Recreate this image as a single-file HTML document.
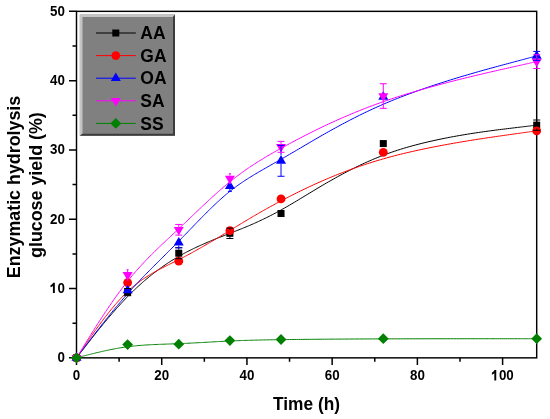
<!DOCTYPE html><html><head><meta charset="utf-8"><style>html,body{margin:0;padding:0;background:#fff;width:550px;height:419px;overflow:hidden}svg{display:block;will-change:transform;filter:blur(0.35px)}text{font-family:"Liberation Sans",sans-serif;font-weight:bold}</style></head><body>
<svg width="550" height="419" viewBox="0 0 550 419">
<rect x="76.5" y="11.35" width="460.19" height="346.50" fill="none" stroke="#000" stroke-width="1.45"/>
<path d="M69.0 357.85H76.5 M72.5 323.20H76.5 M69.0 288.55H76.5 M72.5 253.90H76.5 M69.0 219.25H76.5 M72.5 184.60H76.5 M69.0 149.95H76.5 M72.5 115.30H76.5 M69.0 80.65H76.5 M72.5 46.00H76.5 M69.0 11.35H76.5 M76.50 357.85V365.05 M119.11 357.85V361.85 M161.72 357.85V365.05 M204.33 357.85V361.85 M246.94 357.85V365.05 M289.55 357.85V361.85 M332.16 357.85V365.05 M374.77 357.85V361.85 M417.38 357.85V365.05 M459.99 357.85V361.85 M502.60 357.85V365.05" stroke="#000" stroke-width="1.5" fill="none"/>
<path d="M76.50 357.85 L76.50 357.85 L76.50 357.85 L76.50 357.85 L76.51 357.84 L76.51 357.83 L76.52 357.82 L76.53 357.81 L76.55 357.79 L76.57 357.76 L76.59 357.73 L76.62 357.69 L76.66 357.64 L76.71 357.59 L76.76 357.52 L76.82 357.44 L76.88 357.36 L76.96 357.26 L77.05 357.15 L77.14 357.02 L77.25 356.89 L77.37 356.74 L77.50 356.57 L77.64 356.39 L77.79 356.19 L77.96 355.97 L78.14 355.74 L78.34 355.48 L78.55 355.21 L78.78 354.92 L79.03 354.60 L79.29 354.27 L79.56 353.91 L79.86 353.53 L80.18 353.12 L80.51 352.69 L80.86 352.24 L81.24 351.76 L81.63 351.25 L82.05 350.71 L82.49 350.15 L82.95 349.56 L83.43 348.94 L83.94 348.29 L84.47 347.60 L85.02 346.89 L85.60 346.14 L86.21 345.36 L86.84 344.56 L87.49 343.72 L88.17 342.85 L88.87 341.96 L89.59 341.04 L90.33 340.09 L91.09 339.12 L91.87 338.13 L92.67 337.11 L93.50 336.07 L94.34 335.02 L95.19 333.94 L96.07 332.85 L96.96 331.73 L97.87 330.61 L98.79 329.46 L99.73 328.31 L100.69 327.13 L101.65 325.95 L102.64 324.76 L103.63 323.55 L104.64 322.34 L105.65 321.12 L106.68 319.89 L107.72 318.66 L108.77 317.42 L109.83 316.17 L110.90 314.93 L111.98 313.68 L113.07 312.43 L114.16 311.18 L115.26 309.93 L116.36 308.69 L117.47 307.44 L118.59 306.21 L119.71 304.97 L120.83 303.74 L121.96 302.52 L123.09 301.31 L124.23 300.11 L125.36 298.92 L126.50 297.73 L127.63 296.57 L128.77 295.41 L129.90 294.27 L131.04 293.14 L132.18 292.02 L133.31 290.92 L134.45 289.83 L135.59 288.75 L136.72 287.68 L137.86 286.63 L138.99 285.59 L140.13 284.56 L141.27 283.54 L142.40 282.54 L143.54 281.55 L144.68 280.57 L145.81 279.60 L146.95 278.65 L148.08 277.70 L149.22 276.77 L150.36 275.85 L151.49 274.94 L152.63 274.05 L153.77 273.16 L154.90 272.29 L156.04 271.42 L157.17 270.57 L158.31 269.73 L159.45 268.90 L160.58 268.08 L161.72 267.27 L162.86 266.47 L163.99 265.68 L165.13 264.91 L166.27 264.14 L167.40 263.38 L168.54 262.64 L169.67 261.90 L170.81 261.18 L171.95 260.46 L173.08 259.76 L174.22 259.06 L175.36 258.37 L176.49 257.70 L177.63 257.03 L178.76 256.37 L179.90 255.72 L181.04 255.08 L182.17 254.45 L183.31 253.83 L184.45 253.22 L185.58 252.62 L186.72 252.02 L187.85 251.43 L188.99 250.85 L190.13 250.28 L191.26 249.71 L192.40 249.15 L193.54 248.60 L194.67 248.05 L195.81 247.52 L196.94 246.98 L198.08 246.46 L199.22 245.94 L200.35 245.42 L201.49 244.91 L202.63 244.41 L203.76 243.91 L204.90 243.41 L206.03 242.92 L207.17 242.44 L208.31 241.96 L209.44 241.48 L210.58 241.00 L211.72 240.53 L212.85 240.07 L213.99 239.60 L215.12 239.14 L216.26 238.69 L217.40 238.23 L218.53 237.78 L219.67 237.33 L220.81 236.88 L221.94 236.43 L223.08 235.98 L224.21 235.54 L225.35 235.10 L226.49 234.65 L227.62 234.21 L228.76 233.77 L229.90 233.33 L231.03 232.89 L232.17 232.45 L233.31 232.00 L234.45 231.56 L235.59 231.11 L236.73 230.66 L237.88 230.21 L239.03 229.75 L240.19 229.29 L241.35 228.83 L242.52 228.36 L243.69 227.88 L244.87 227.40 L246.06 226.90 L247.26 226.41 L248.46 225.90 L249.67 225.38 L250.89 224.86 L252.13 224.32 L253.37 223.78 L254.62 223.22 L255.89 222.65 L257.17 222.07 L258.46 221.48 L259.76 220.88 L261.08 220.26 L262.42 219.62 L263.76 218.97 L265.13 218.31 L266.51 217.63 L267.91 216.93 L269.32 216.22 L270.75 215.49 L272.20 214.74 L273.67 213.97 L275.16 213.19 L276.67 212.38 L278.21 211.55 L279.76 210.70 L281.33 209.84 L282.93 208.94 L284.55 208.03 L286.19 207.09 L287.86 206.13 L289.55 205.15 L291.27 204.14 L293.01 203.11 L294.78 202.05 L296.57 200.97 L298.39 199.88 L300.23 198.76 L302.10 197.62 L303.99 196.47 L305.91 195.31 L307.86 194.12 L309.83 192.93 L311.82 191.72 L313.84 190.50 L315.89 189.27 L317.96 188.03 L320.05 186.79 L322.17 185.53 L324.32 184.27 L326.49 183.01 L328.69 181.74 L330.91 180.47 L333.16 179.20 L335.43 177.93 L337.73 176.66 L340.05 175.39 L342.40 174.12 L344.77 172.86 L347.17 171.61 L349.60 170.36 L352.04 169.12 L354.52 167.88 L357.02 166.66 L359.54 165.45 L362.09 164.25 L364.67 163.06 L367.27 161.89 L369.90 160.73 L372.55 159.59 L375.22 158.46 L377.93 157.36 L380.65 156.27 L383.41 155.21 L386.18 154.17 L388.99 153.15 L391.81 152.16 L394.67 151.19 L397.54 150.24 L400.44 149.32 L403.35 148.43 L406.29 147.56 L409.23 146.71 L412.19 145.89 L415.16 145.08 L418.13 144.31 L421.11 143.55 L424.09 142.81 L427.07 142.10 L430.05 141.41 L433.03 140.74 L436.00 140.09 L438.96 139.46 L441.92 138.84 L444.85 138.25 L447.78 137.68 L450.68 137.12 L453.57 136.59 L456.44 136.07 L459.28 135.57 L462.09 135.08 L464.88 134.61 L467.63 134.16 L470.35 133.73 L473.04 133.31 L475.69 132.90 L478.30 132.51 L480.86 132.14 L483.39 131.78 L485.86 131.43 L488.29 131.10 L490.66 130.78 L492.99 130.47 L495.25 130.17 L497.46 129.89 L499.61 129.62 L501.70 129.36 L503.72 129.11 L505.68 128.87 L507.56 128.64 L509.38 128.42 L511.12 128.21 L512.83 128.01 L514.45 127.81 L516.00 127.63 L517.48 127.45 L518.88 127.28 L520.22 127.12 L521.49 126.97 L522.69 126.82 L523.82 126.69 L524.89 126.56 L525.90 126.44 L526.85 126.32 L527.75 126.22 L528.58 126.11 L529.37 126.02 L530.10 125.93 L530.78 125.85 L531.41 125.77 L532.00 125.70 L532.54 125.64 L533.04 125.58 L533.49 125.52 L533.91 125.47 L534.29 125.43 L534.63 125.39 L534.94 125.35 L535.21 125.32 L535.46 125.29 L535.68 125.26 L535.86 125.24 L536.03 125.22 L536.17 125.20 L536.29 125.19 L536.39 125.18 L536.47 125.17 L536.53 125.16 L536.59 125.15 L536.62 125.15 L536.65 125.15 L536.67 125.14 L536.68 125.14 L536.69 125.14 L536.69 125.14 L536.69 125.14" fill="none" stroke="#000000" stroke-width="1.0"/>
<path d="M76.50 357.85 L76.50 357.85 L76.50 357.85 L76.50 357.85 L76.51 357.84 L76.51 357.83 L76.52 357.82 L76.53 357.80 L76.55 357.78 L76.57 357.75 L76.59 357.71 L76.62 357.67 L76.66 357.61 L76.71 357.55 L76.76 357.47 L76.82 357.39 L76.88 357.29 L76.96 357.17 L77.05 357.05 L77.14 356.91 L77.25 356.75 L77.37 356.58 L77.50 356.38 L77.64 356.18 L77.79 355.95 L77.96 355.70 L78.14 355.43 L78.34 355.14 L78.55 354.83 L78.78 354.49 L79.03 354.13 L79.29 353.75 L79.56 353.34 L79.86 352.90 L80.18 352.44 L80.51 351.95 L80.86 351.43 L81.24 350.88 L81.63 350.30 L82.05 349.68 L82.49 349.04 L82.95 348.36 L83.43 347.65 L83.94 346.91 L84.47 346.12 L85.02 345.31 L85.60 344.45 L86.21 343.56 L86.84 342.64 L87.49 341.68 L88.17 340.69 L88.87 339.67 L89.59 338.62 L90.33 337.55 L91.09 336.45 L91.87 335.32 L92.67 334.17 L93.50 333.00 L94.34 331.81 L95.19 330.61 L96.07 329.38 L96.96 328.14 L97.87 326.88 L98.79 325.61 L99.73 324.33 L100.69 323.04 L101.65 321.74 L102.64 320.43 L103.63 319.12 L104.64 317.80 L105.65 316.48 L106.68 315.15 L107.72 313.83 L108.77 312.51 L109.83 311.19 L110.90 309.87 L111.98 308.56 L113.07 307.26 L114.16 305.96 L115.26 304.67 L116.36 303.40 L117.47 302.14 L118.59 300.89 L119.71 299.65 L120.83 298.44 L121.96 297.24 L123.09 296.06 L124.23 294.90 L125.36 293.76 L126.50 292.65 L127.63 291.56 L128.77 290.50 L129.90 289.47 L131.04 288.46 L132.18 287.47 L133.31 286.51 L134.45 285.57 L135.59 284.66 L136.72 283.76 L137.86 282.89 L138.99 282.04 L140.13 281.20 L141.27 280.39 L142.40 279.59 L143.54 278.82 L144.68 278.06 L145.81 277.31 L146.95 276.58 L148.08 275.87 L149.22 275.17 L150.36 274.48 L151.49 273.80 L152.63 273.14 L153.77 272.49 L154.90 271.85 L156.04 271.22 L157.17 270.60 L158.31 269.99 L159.45 269.39 L160.58 268.79 L161.72 268.20 L162.86 267.61 L163.99 267.03 L165.13 266.46 L166.27 265.89 L167.40 265.32 L168.54 264.76 L169.67 264.19 L170.81 263.63 L171.95 263.07 L173.08 262.51 L174.22 261.94 L175.36 261.38 L176.49 260.81 L177.63 260.24 L178.76 259.66 L179.90 259.08 L181.04 258.50 L182.17 257.91 L183.31 257.32 L184.45 256.73 L185.58 256.13 L186.72 255.52 L187.85 254.91 L188.99 254.30 L190.13 253.69 L191.26 253.07 L192.40 252.44 L193.54 251.82 L194.67 251.19 L195.81 250.56 L196.94 249.92 L198.08 249.28 L199.22 248.64 L200.35 247.99 L201.49 247.35 L202.63 246.70 L203.76 246.04 L204.90 245.39 L206.03 244.73 L207.17 244.07 L208.31 243.40 L209.44 242.74 L210.58 242.07 L211.72 241.40 L212.85 240.73 L213.99 240.06 L215.12 239.38 L216.26 238.71 L217.40 238.03 L218.53 237.35 L219.67 236.66 L220.81 235.98 L221.94 235.30 L223.08 234.61 L224.21 233.92 L225.35 233.24 L226.49 232.55 L227.62 231.86 L228.76 231.17 L229.90 230.48 L231.03 229.78 L232.17 229.09 L233.31 228.40 L234.45 227.70 L235.59 227.01 L236.73 226.31 L237.88 225.61 L239.03 224.91 L240.19 224.21 L241.35 223.51 L242.52 222.80 L243.69 222.09 L244.87 221.38 L246.06 220.67 L247.26 219.95 L248.46 219.23 L249.67 218.51 L250.89 217.78 L252.13 217.06 L253.37 216.32 L254.62 215.59 L255.89 214.85 L257.17 214.11 L258.46 213.36 L259.76 212.61 L261.08 211.85 L262.42 211.09 L263.76 210.33 L265.13 209.56 L266.51 208.78 L267.91 208.00 L269.32 207.22 L270.75 206.43 L272.20 205.63 L273.67 204.83 L275.16 204.02 L276.67 203.21 L278.21 202.39 L279.76 201.56 L281.33 200.73 L282.93 199.89 L284.55 199.04 L286.19 198.19 L287.86 197.33 L289.55 196.46 L291.27 195.59 L293.01 194.71 L294.78 193.82 L296.57 192.92 L298.39 192.02 L300.23 191.12 L302.10 190.21 L303.99 189.30 L305.91 188.38 L307.86 187.46 L309.83 186.53 L311.82 185.61 L313.84 184.68 L315.89 183.75 L317.96 182.82 L320.05 181.89 L322.17 180.95 L324.32 180.02 L326.49 179.09 L328.69 178.16 L330.91 177.23 L333.16 176.30 L335.43 175.38 L337.73 174.45 L340.05 173.54 L342.40 172.62 L344.77 171.71 L347.17 170.80 L349.60 169.90 L352.04 169.00 L354.52 168.11 L357.02 167.23 L359.54 166.35 L362.09 165.48 L364.67 164.62 L367.27 163.76 L369.90 162.91 L372.55 162.08 L375.22 161.25 L377.93 160.43 L380.65 159.62 L383.41 158.82 L386.18 158.04 L388.99 157.26 L391.81 156.50 L394.67 155.75 L397.54 155.01 L400.44 154.28 L403.35 153.57 L406.29 152.87 L409.23 152.18 L412.19 151.50 L415.16 150.84 L418.13 150.18 L421.11 149.54 L424.09 148.92 L427.07 148.30 L430.05 147.69 L433.03 147.10 L436.00 146.52 L438.96 145.95 L441.92 145.39 L444.85 144.85 L447.78 144.31 L450.68 143.79 L453.57 143.28 L456.44 142.78 L459.28 142.29 L462.09 141.82 L464.88 141.35 L467.63 140.90 L470.35 140.46 L473.04 140.03 L475.69 139.61 L478.30 139.20 L480.86 138.80 L483.39 138.42 L485.86 138.04 L488.29 137.68 L490.66 137.33 L492.99 136.99 L495.25 136.66 L497.46 136.34 L499.61 136.03 L501.70 135.73 L503.72 135.44 L505.68 135.17 L507.56 134.90 L509.38 134.65 L511.12 134.40 L512.83 134.17 L514.45 133.94 L516.00 133.72 L517.48 133.51 L518.88 133.32 L520.22 133.13 L521.49 132.95 L522.69 132.78 L523.82 132.63 L524.89 132.48 L525.90 132.33 L526.85 132.20 L527.75 132.08 L528.58 131.96 L529.37 131.85 L530.10 131.75 L530.78 131.65 L531.41 131.56 L532.00 131.48 L532.54 131.40 L533.04 131.33 L533.49 131.27 L533.91 131.21 L534.29 131.16 L534.63 131.11 L534.94 131.07 L535.21 131.03 L535.46 131.00 L535.68 130.97 L535.86 130.94 L536.03 130.92 L536.17 130.90 L536.29 130.88 L536.39 130.87 L536.47 130.85 L536.53 130.84 L536.59 130.84 L536.62 130.83 L536.65 130.83 L536.67 130.83 L536.68 130.82 L536.69 130.82 L536.69 130.82 L536.69 130.82" fill="none" stroke="#ff0000" stroke-width="1.0"/>
<path d="M76.50 357.85 L76.50 357.85 L76.50 357.85 L76.50 357.85 L76.51 357.84 L76.51 357.83 L76.52 357.82 L76.53 357.81 L76.55 357.79 L76.57 357.76 L76.59 357.73 L76.62 357.69 L76.66 357.64 L76.71 357.58 L76.76 357.51 L76.82 357.43 L76.88 357.34 L76.96 357.24 L77.05 357.13 L77.14 357.00 L77.25 356.86 L77.37 356.71 L77.50 356.54 L77.64 356.35 L77.79 356.15 L77.96 355.92 L78.14 355.68 L78.34 355.42 L78.55 355.14 L78.78 354.84 L79.03 354.52 L79.29 354.18 L79.56 353.81 L79.86 353.42 L80.18 353.00 L80.51 352.56 L80.86 352.10 L81.24 351.60 L81.63 351.08 L82.05 350.53 L82.49 349.96 L82.95 349.35 L83.43 348.71 L83.94 348.04 L84.47 347.34 L85.02 346.61 L85.60 345.85 L86.21 345.05 L86.84 344.22 L87.49 343.36 L88.17 342.47 L88.87 341.55 L89.59 340.61 L90.33 339.63 L91.09 338.64 L91.87 337.61 L92.67 336.57 L93.50 335.50 L94.34 334.41 L95.19 333.30 L96.07 332.17 L96.96 331.01 L97.87 329.85 L98.79 328.66 L99.73 327.46 L100.69 326.24 L101.65 325.01 L102.64 323.77 L103.63 322.51 L104.64 321.24 L105.65 319.97 L106.68 318.68 L107.72 317.38 L108.77 316.08 L109.83 314.77 L110.90 313.45 L111.98 312.13 L113.07 310.81 L114.16 309.48 L115.26 308.15 L116.36 306.83 L117.47 305.50 L118.59 304.17 L119.71 302.84 L120.83 301.52 L121.96 300.20 L123.09 298.89 L124.23 297.58 L125.36 296.28 L126.50 294.99 L127.63 293.70 L128.77 292.43 L129.90 291.16 L131.04 289.90 L132.18 288.66 L133.31 287.42 L134.45 286.19 L135.59 284.96 L136.72 283.75 L137.86 282.54 L138.99 281.34 L140.13 280.14 L141.27 278.95 L142.40 277.77 L143.54 276.59 L144.68 275.42 L145.81 274.26 L146.95 273.09 L148.08 271.94 L149.22 270.78 L150.36 269.63 L151.49 268.49 L152.63 267.34 L153.77 266.20 L154.90 265.07 L156.04 263.93 L157.17 262.80 L158.31 261.67 L159.45 260.53 L160.58 259.41 L161.72 258.28 L162.86 257.15 L163.99 256.02 L165.13 254.89 L166.27 253.76 L167.40 252.63 L168.54 251.50 L169.67 250.36 L170.81 249.23 L171.95 248.09 L173.08 246.95 L174.22 245.81 L175.36 244.66 L176.49 243.52 L177.63 242.36 L178.76 241.21 L179.90 240.05 L181.04 238.88 L182.17 237.71 L183.31 236.54 L184.45 235.37 L185.58 234.19 L186.72 233.01 L187.85 231.83 L188.99 230.65 L190.13 229.47 L191.26 228.29 L192.40 227.11 L193.54 225.94 L194.67 224.76 L195.81 223.58 L196.94 222.41 L198.08 221.24 L199.22 220.07 L200.35 218.91 L201.49 217.75 L202.63 216.59 L203.76 215.44 L204.90 214.29 L206.03 213.16 L207.17 212.02 L208.31 210.90 L209.44 209.78 L210.58 208.66 L211.72 207.56 L212.85 206.46 L213.99 205.38 L215.12 204.30 L216.26 203.23 L217.40 202.17 L218.53 201.13 L219.67 200.09 L220.81 199.06 L221.94 198.05 L223.08 197.05 L224.21 196.06 L225.35 195.09 L226.49 194.13 L227.62 193.18 L228.76 192.25 L229.90 191.33 L231.03 190.43 L232.17 189.54 L233.31 188.67 L234.45 187.81 L235.59 186.96 L236.73 186.13 L237.88 185.30 L239.03 184.49 L240.19 183.68 L241.35 182.88 L242.52 182.09 L243.69 181.31 L244.87 180.53 L246.06 179.76 L247.26 179.00 L248.46 178.23 L249.67 177.48 L250.89 176.72 L252.13 175.96 L253.37 175.21 L254.62 174.45 L255.89 173.70 L257.17 172.94 L258.46 172.18 L259.76 171.42 L261.08 170.66 L262.42 169.89 L263.76 169.11 L265.13 168.33 L266.51 167.54 L267.91 166.75 L269.32 165.94 L270.75 165.13 L272.20 164.30 L273.67 163.47 L275.16 162.62 L276.67 161.77 L278.21 160.90 L279.76 160.01 L281.33 159.11 L282.93 158.20 L284.55 157.27 L286.19 156.32 L287.86 155.36 L289.55 154.37 L291.27 153.37 L293.01 152.35 L294.78 151.31 L296.57 150.26 L298.39 149.19 L300.23 148.10 L302.10 147.00 L303.99 145.88 L305.91 144.75 L307.86 143.61 L309.83 142.45 L311.82 141.28 L313.84 140.10 L315.89 138.91 L317.96 137.72 L320.05 136.51 L322.17 135.29 L324.32 134.07 L326.49 132.84 L328.69 131.60 L330.91 130.36 L333.16 129.11 L335.43 127.86 L337.73 126.61 L340.05 125.35 L342.40 124.09 L344.77 122.83 L347.17 121.57 L349.60 120.31 L352.04 119.05 L354.52 117.79 L357.02 116.53 L359.54 115.27 L362.09 114.02 L364.67 112.77 L367.27 111.53 L369.90 110.29 L372.55 109.06 L375.22 107.83 L377.93 106.61 L380.65 105.40 L383.41 104.20 L386.18 103.01 L388.99 101.83 L391.81 100.65 L394.67 99.49 L397.54 98.35 L400.44 97.21 L403.35 96.08 L406.29 94.97 L409.23 93.87 L412.19 92.79 L415.16 91.71 L418.13 90.65 L421.11 89.60 L424.09 88.57 L427.07 87.54 L430.05 86.54 L433.03 85.54 L436.00 84.56 L438.96 83.60 L441.92 82.65 L444.85 81.71 L447.78 80.79 L450.68 79.88 L453.57 78.99 L456.44 78.12 L459.28 77.26 L462.09 76.42 L464.88 75.59 L467.63 74.78 L470.35 73.98 L473.04 73.21 L475.69 72.44 L478.30 71.70 L480.86 70.97 L483.39 70.27 L485.86 69.57 L488.29 68.90 L490.66 68.24 L492.99 67.61 L495.25 66.99 L497.46 66.39 L499.61 65.81 L501.70 65.24 L503.72 64.70 L505.68 64.18 L507.56 63.67 L509.38 63.19 L511.12 62.72 L512.83 62.27 L514.45 61.84 L516.00 61.42 L517.48 61.03 L518.88 60.66 L520.22 60.30 L521.49 59.96 L522.69 59.64 L523.82 59.34 L524.89 59.05 L525.90 58.78 L526.85 58.53 L527.75 58.29 L528.58 58.07 L529.37 57.86 L530.10 57.67 L530.78 57.48 L531.41 57.32 L532.00 57.16 L532.54 57.02 L533.04 56.88 L533.49 56.76 L533.91 56.65 L534.29 56.55 L534.63 56.46 L534.94 56.38 L535.21 56.30 L535.46 56.24 L535.68 56.18 L535.86 56.13 L536.03 56.09 L536.17 56.05 L536.29 56.02 L536.39 55.99 L536.47 55.97 L536.53 55.95 L536.59 55.94 L536.62 55.93 L536.65 55.92 L536.67 55.92 L536.68 55.91 L536.69 55.91 L536.69 55.91 L536.69 55.91" fill="none" stroke="#0000ff" stroke-width="1.0"/>
<path d="M76.50 357.85 L76.50 357.85 L76.50 357.85 L76.50 357.85 L76.51 357.84 L76.51 357.83 L76.52 357.82 L76.53 357.80 L76.55 357.77 L76.57 357.74 L76.59 357.70 L76.62 357.65 L76.66 357.59 L76.71 357.52 L76.76 357.43 L76.82 357.34 L76.88 357.23 L76.96 357.10 L77.05 356.97 L77.14 356.81 L77.25 356.64 L77.37 356.44 L77.50 356.23 L77.64 356.00 L77.79 355.75 L77.96 355.48 L78.14 355.18 L78.34 354.86 L78.55 354.52 L78.78 354.15 L79.03 353.75 L79.29 353.33 L79.56 352.88 L79.86 352.40 L80.18 351.89 L80.51 351.35 L80.86 350.77 L81.24 350.17 L81.63 349.52 L82.05 348.85 L82.49 348.14 L82.95 347.39 L83.43 346.61 L83.94 345.79 L84.47 344.93 L85.02 344.02 L85.60 343.08 L86.21 342.10 L86.84 341.08 L87.49 340.02 L88.17 338.93 L88.87 337.80 L89.59 336.64 L90.33 335.45 L91.09 334.23 L91.87 332.98 L92.67 331.70 L93.50 330.40 L94.34 329.07 L95.19 327.71 L96.07 326.34 L96.96 324.94 L97.87 323.52 L98.79 322.09 L99.73 320.63 L100.69 319.17 L101.65 317.68 L102.64 316.19 L103.63 314.68 L104.64 313.16 L105.65 311.63 L106.68 310.10 L107.72 308.56 L108.77 307.01 L109.83 305.46 L110.90 303.91 L111.98 302.35 L113.07 300.80 L114.16 299.24 L115.26 297.69 L116.36 296.15 L117.47 294.61 L118.59 293.07 L119.71 291.55 L120.83 290.03 L121.96 288.52 L123.09 287.03 L124.23 285.55 L125.36 284.09 L126.50 282.64 L127.63 281.20 L128.77 279.79 L129.90 278.40 L131.04 277.02 L132.18 275.66 L133.31 274.31 L134.45 272.99 L135.59 271.67 L136.72 270.38 L137.86 269.10 L138.99 267.83 L140.13 266.58 L141.27 265.34 L142.40 264.11 L143.54 262.89 L144.68 261.69 L145.81 260.50 L146.95 259.32 L148.08 258.15 L149.22 256.99 L150.36 255.84 L151.49 254.70 L152.63 253.57 L153.77 252.44 L154.90 251.32 L156.04 250.21 L157.17 249.11 L158.31 248.01 L159.45 246.92 L160.58 245.84 L161.72 244.75 L162.86 243.68 L163.99 242.60 L165.13 241.53 L166.27 240.47 L167.40 239.40 L168.54 238.34 L169.67 237.27 L170.81 236.21 L171.95 235.15 L173.08 234.09 L174.22 233.03 L175.36 231.97 L176.49 230.90 L177.63 229.84 L178.76 228.77 L179.90 227.70 L181.04 226.62 L182.17 225.54 L183.31 224.46 L184.45 223.38 L185.58 222.30 L186.72 221.22 L187.85 220.13 L188.99 219.05 L190.13 217.96 L191.26 216.87 L192.40 215.79 L193.54 214.70 L194.67 213.62 L195.81 212.53 L196.94 211.45 L198.08 210.37 L199.22 209.29 L200.35 208.21 L201.49 207.13 L202.63 206.06 L203.76 204.99 L204.90 203.92 L206.03 202.86 L207.17 201.80 L208.31 200.74 L209.44 199.69 L210.58 198.64 L211.72 197.60 L212.85 196.57 L213.99 195.53 L215.12 194.51 L216.26 193.49 L217.40 192.47 L218.53 191.47 L219.67 190.47 L220.81 189.47 L221.94 188.49 L223.08 187.51 L224.21 186.54 L225.35 185.58 L226.49 184.62 L227.62 183.68 L228.76 182.74 L229.90 181.82 L231.03 180.90 L232.17 179.99 L233.31 179.09 L234.45 178.20 L235.59 177.32 L236.73 176.44 L237.88 175.58 L239.03 174.71 L240.19 173.86 L241.35 173.01 L242.52 172.17 L243.69 171.33 L244.87 170.49 L246.06 169.66 L247.26 168.84 L248.46 168.01 L249.67 167.19 L250.89 166.37 L252.13 165.56 L253.37 164.74 L254.62 163.93 L255.89 163.12 L257.17 162.30 L258.46 161.49 L259.76 160.68 L261.08 159.86 L262.42 159.05 L263.76 158.23 L265.13 157.41 L266.51 156.59 L267.91 155.77 L269.32 154.94 L270.75 154.10 L272.20 153.27 L273.67 152.43 L275.16 151.58 L276.67 150.73 L278.21 149.87 L279.76 149.00 L281.33 148.13 L282.93 147.25 L284.55 146.37 L286.19 145.47 L287.86 144.57 L289.55 143.66 L291.27 142.73 L293.01 141.80 L294.78 140.86 L296.57 139.92 L298.39 138.96 L300.23 138.00 L302.10 137.03 L303.99 136.05 L305.91 135.07 L307.86 134.08 L309.83 133.08 L311.82 132.08 L313.84 131.08 L315.89 130.07 L317.96 129.06 L320.05 128.04 L322.17 127.02 L324.32 126.00 L326.49 124.98 L328.69 123.95 L330.91 122.92 L333.16 121.89 L335.43 120.86 L337.73 119.83 L340.05 118.80 L342.40 117.77 L344.77 116.74 L347.17 115.71 L349.60 114.68 L352.04 113.66 L354.52 112.63 L357.02 111.61 L359.54 110.60 L362.09 109.58 L364.67 108.57 L367.27 107.56 L369.90 106.56 L372.55 105.57 L375.22 104.57 L377.93 103.59 L380.65 102.61 L383.41 101.64 L386.18 100.67 L388.99 99.71 L391.81 98.76 L394.67 97.82 L397.54 96.88 L400.44 95.96 L403.35 95.04 L406.29 94.13 L409.23 93.23 L412.19 92.34 L415.16 91.46 L418.13 90.59 L421.11 89.73 L424.09 88.87 L427.07 88.03 L430.05 87.20 L433.03 86.38 L436.00 85.57 L438.96 84.78 L441.92 83.99 L444.85 83.21 L447.78 82.45 L450.68 81.70 L453.57 80.96 L456.44 80.23 L459.28 79.52 L462.09 78.81 L464.88 78.12 L467.63 77.45 L470.35 76.78 L473.04 76.13 L475.69 75.50 L478.30 74.88 L480.86 74.27 L483.39 73.67 L485.86 73.09 L488.29 72.53 L490.66 71.98 L492.99 71.44 L495.25 70.92 L497.46 70.42 L499.61 69.93 L501.70 69.45 L503.72 69.00 L505.68 68.56 L507.56 68.13 L509.38 67.72 L511.12 67.33 L512.83 66.95 L514.45 66.59 L516.00 66.24 L517.48 65.91 L518.88 65.59 L520.22 65.29 L521.49 65.01 L522.69 64.74 L523.82 64.48 L524.89 64.24 L525.90 64.01 L526.85 63.80 L527.75 63.60 L528.58 63.41 L529.37 63.24 L530.10 63.07 L530.78 62.92 L531.41 62.78 L532.00 62.65 L532.54 62.52 L533.04 62.41 L533.49 62.31 L533.91 62.22 L534.29 62.13 L534.63 62.05 L534.94 61.99 L535.21 61.92 L535.46 61.87 L535.68 61.82 L535.86 61.78 L536.03 61.74 L536.17 61.71 L536.29 61.68 L536.39 61.66 L536.47 61.64 L536.53 61.63 L536.59 61.62 L536.62 61.61 L536.65 61.60 L536.67 61.60 L536.68 61.59 L536.69 61.59 L536.69 61.59 L536.69 61.59" fill="none" stroke="#ff00ff" stroke-width="1.0"/>
<path d="M76.50 357.85 L76.50 357.85 L76.50 357.85 L76.50 357.85 L76.51 357.85 L76.51 357.85 L76.52 357.84 L76.53 357.84 L76.55 357.84 L76.57 357.83 L76.59 357.83 L76.62 357.82 L76.66 357.81 L76.71 357.80 L76.76 357.78 L76.82 357.77 L76.88 357.75 L76.96 357.73 L77.05 357.71 L77.14 357.68 L77.25 357.66 L77.37 357.63 L77.50 357.59 L77.64 357.56 L77.79 357.52 L77.96 357.47 L78.14 357.42 L78.34 357.37 L78.55 357.32 L78.78 357.26 L79.03 357.20 L79.29 357.13 L79.56 357.06 L79.86 356.98 L80.18 356.90 L80.51 356.81 L80.86 356.72 L81.24 356.62 L81.63 356.52 L82.05 356.41 L82.49 356.30 L82.95 356.18 L83.43 356.06 L83.94 355.93 L84.47 355.79 L85.02 355.64 L85.60 355.49 L86.21 355.34 L86.84 355.17 L87.49 355.01 L88.17 354.83 L88.87 354.65 L89.59 354.47 L90.33 354.28 L91.09 354.09 L91.87 353.89 L92.67 353.69 L93.50 353.49 L94.34 353.28 L95.19 353.08 L96.07 352.86 L96.96 352.65 L97.87 352.43 L98.79 352.22 L99.73 352.00 L100.69 351.78 L101.65 351.56 L102.64 351.33 L103.63 351.11 L104.64 350.89 L105.65 350.67 L106.68 350.45 L107.72 350.23 L108.77 350.01 L109.83 349.79 L110.90 349.58 L111.98 349.36 L113.07 349.15 L114.16 348.94 L115.26 348.74 L116.36 348.54 L117.47 348.34 L118.59 348.14 L119.71 347.95 L120.83 347.76 L121.96 347.58 L123.09 347.40 L124.23 347.23 L125.36 347.07 L126.50 346.91 L127.63 346.75 L128.77 346.60 L129.90 346.46 L131.04 346.32 L132.18 346.19 L133.31 346.07 L134.45 345.95 L135.59 345.83 L136.72 345.72 L137.86 345.62 L138.99 345.52 L140.13 345.43 L141.27 345.34 L142.40 345.25 L143.54 345.17 L144.68 345.09 L145.81 345.01 L146.95 344.94 L148.08 344.87 L149.22 344.81 L150.36 344.75 L151.49 344.69 L152.63 344.63 L153.77 344.58 L154.90 344.53 L156.04 344.48 L157.17 344.43 L158.31 344.39 L159.45 344.34 L160.58 344.30 L161.72 344.26 L162.86 344.22 L163.99 344.18 L165.13 344.14 L166.27 344.10 L167.40 344.06 L168.54 344.03 L169.67 343.99 L170.81 343.95 L171.95 343.91 L173.08 343.87 L174.22 343.83 L175.36 343.79 L176.49 343.75 L177.63 343.71 L178.76 343.67 L179.90 343.62 L181.04 343.57 L182.17 343.53 L183.31 343.48 L184.45 343.42 L185.58 343.37 L186.72 343.32 L187.85 343.26 L188.99 343.21 L190.13 343.15 L191.26 343.09 L192.40 343.04 L193.54 342.98 L194.67 342.92 L195.81 342.85 L196.94 342.79 L198.08 342.73 L199.22 342.67 L200.35 342.61 L201.49 342.54 L202.63 342.48 L203.76 342.41 L204.90 342.35 L206.03 342.29 L207.17 342.22 L208.31 342.16 L209.44 342.09 L210.58 342.03 L211.72 341.96 L212.85 341.90 L213.99 341.84 L215.12 341.77 L216.26 341.71 L217.40 341.65 L218.53 341.58 L219.67 341.52 L220.81 341.46 L221.94 341.40 L223.08 341.34 L224.21 341.29 L225.35 341.23 L226.49 341.17 L227.62 341.12 L228.76 341.06 L229.90 341.01 L231.03 340.96 L232.17 340.91 L233.31 340.86 L234.45 340.81 L235.59 340.76 L236.73 340.72 L237.88 340.67 L239.03 340.63 L240.19 340.59 L241.35 340.54 L242.52 340.50 L243.69 340.46 L244.87 340.42 L246.06 340.39 L247.26 340.35 L248.46 340.31 L249.67 340.28 L250.89 340.24 L252.13 340.21 L253.37 340.18 L254.62 340.15 L255.89 340.11 L257.17 340.08 L258.46 340.05 L259.76 340.02 L261.08 340.00 L262.42 339.97 L263.76 339.94 L265.13 339.91 L266.51 339.89 L267.91 339.86 L269.32 339.84 L270.75 339.81 L272.20 339.79 L273.67 339.76 L275.16 339.74 L276.67 339.72 L278.21 339.69 L279.76 339.67 L281.33 339.65 L282.93 339.63 L284.55 339.61 L286.19 339.59 L287.86 339.56 L289.55 339.54 L291.27 339.52 L293.01 339.50 L294.78 339.48 L296.57 339.46 L298.39 339.44 L300.23 339.42 L302.10 339.40 L303.99 339.38 L305.91 339.36 L307.86 339.34 L309.83 339.33 L311.82 339.31 L313.84 339.29 L315.89 339.27 L317.96 339.25 L320.05 339.24 L322.17 339.22 L324.32 339.20 L326.49 339.18 L328.69 339.17 L330.91 339.15 L333.16 339.14 L335.43 339.12 L337.73 339.10 L340.05 339.09 L342.40 339.07 L344.77 339.06 L347.17 339.04 L349.60 339.03 L352.04 339.02 L354.52 339.00 L357.02 338.99 L359.54 338.98 L362.09 338.97 L364.67 338.95 L367.27 338.94 L369.90 338.93 L372.55 338.92 L375.22 338.91 L377.93 338.90 L380.65 338.89 L383.41 338.88 L386.18 338.87 L388.99 338.86 L391.81 338.85 L394.67 338.84 L397.54 338.83 L400.44 338.83 L403.35 338.82 L406.29 338.81 L409.23 338.81 L412.19 338.80 L415.16 338.79 L418.13 338.79 L421.11 338.78 L424.09 338.78 L427.07 338.77 L430.05 338.77 L433.03 338.76 L436.00 338.76 L438.96 338.76 L441.92 338.75 L444.85 338.75 L447.78 338.75 L450.68 338.74 L453.57 338.74 L456.44 338.74 L459.28 338.74 L462.09 338.74 L464.88 338.73 L467.63 338.73 L470.35 338.73 L473.04 338.73 L475.69 338.73 L478.30 338.73 L480.86 338.73 L483.39 338.73 L485.86 338.73 L488.29 338.73 L490.66 338.72 L492.99 338.72 L495.25 338.72 L497.46 338.72 L499.61 338.72 L501.70 338.72 L503.72 338.72 L505.68 338.72 L507.56 338.72 L509.38 338.72 L511.12 338.72 L512.83 338.72 L514.45 338.72 L516.00 338.72 L517.48 338.72 L518.88 338.72 L520.22 338.72 L521.49 338.72 L522.69 338.72 L523.82 338.72 L524.89 338.72 L525.90 338.72 L526.85 338.72 L527.75 338.72 L528.58 338.72 L529.37 338.72 L530.10 338.72 L530.78 338.72 L531.41 338.72 L532.00 338.72 L532.54 338.72 L533.04 338.72 L533.49 338.72 L533.91 338.72 L534.29 338.72 L534.63 338.72 L534.94 338.72 L535.21 338.72 L535.46 338.72 L535.68 338.72 L535.86 338.72 L536.03 338.72 L536.17 338.72 L536.29 338.72 L536.39 338.72 L536.47 338.72 L536.53 338.72 L536.59 338.72 L536.62 338.72 L536.65 338.72 L536.67 338.72 L536.68 338.72 L536.69 338.72 L536.69 338.72 L536.69 338.72" fill="none" stroke="#008000" stroke-width="1.0"/>
<rect x="73.00" y="354.35" width="7.00" height="7.00" fill="#000000"/>
<rect x="124.13" y="288.58" width="7.00" height="7.00" fill="#000000"/>
<rect x="175.26" y="249.71" width="7.00" height="7.00" fill="#000000"/>
<rect x="226.40" y="229.82" width="7.00" height="7.00" fill="#000000"/>
<rect x="277.53" y="210.00" width="7.00" height="7.00" fill="#000000"/>
<rect x="379.79" y="140.07" width="7.00" height="7.00" fill="#000000"/>
<rect x="533.19" y="121.64" width="7.00" height="7.00" fill="#000000"/>
<circle cx="76.50" cy="357.85" r="4.4" fill="#ff0000"/>
<circle cx="127.63" cy="282.59" r="4.4" fill="#ff0000"/>
<circle cx="178.76" cy="261.18" r="4.4" fill="#ff0000"/>
<circle cx="229.90" cy="230.68" r="4.4" fill="#ff0000"/>
<circle cx="281.03" cy="198.95" r="4.4" fill="#ff0000"/>
<circle cx="383.29" cy="152.31" r="4.4" fill="#ff0000"/>
<circle cx="536.69" cy="130.82" r="4.4" fill="#ff0000"/>
<path d="M76.50 352.12L81.50 360.72L71.50 360.72Z" fill="#0000ff"/>
<path d="M127.63 284.69L132.63 293.29L122.63 293.29Z" fill="#0000ff"/>
<path d="M178.76 236.94L183.76 245.54L173.76 245.54Z" fill="#0000ff"/>
<path d="M229.90 180.39L234.90 188.99L224.90 188.99Z" fill="#0000ff"/>
<path d="M281.03 155.10L286.03 163.70L276.03 163.70Z" fill="#0000ff"/>
<path d="M383.29 91.06L388.29 99.66L378.29 99.66Z" fill="#0000ff"/>
<path d="M536.69 50.18L541.69 58.78L531.69 58.78Z" fill="#0000ff"/>
<path d="M76.50 363.58L81.50 354.98L71.50 354.98Z" fill="#ff00ff"/>
<path d="M127.63 280.63L132.63 272.03L122.63 272.03Z" fill="#ff00ff"/>
<path d="M178.76 235.52L183.76 226.92L173.76 226.92Z" fill="#ff00ff"/>
<path d="M229.90 184.30L234.90 175.70L224.90 175.70Z" fill="#ff00ff"/>
<path d="M281.03 152.56L286.03 143.96L276.03 143.96Z" fill="#ff00ff"/>
<path d="M383.29 101.77L388.29 93.17L378.29 93.17Z" fill="#ff00ff"/>
<path d="M536.69 67.33L541.69 58.73L531.69 58.73Z" fill="#ff00ff"/>
<path d="M76.50 352.45L81.90 357.85L76.50 363.25L71.10 357.85Z" fill="#008000"/>
<path d="M127.63 339.21L133.03 344.61L127.63 350.01L122.23 344.61Z" fill="#008000"/>
<path d="M178.76 338.80L184.16 344.20L178.76 349.60L173.36 344.20Z" fill="#008000"/>
<path d="M229.90 335.19L235.30 340.59L229.90 345.99L224.50 340.59Z" fill="#008000"/>
<path d="M281.03 334.09L286.43 339.49L281.03 344.89L275.63 339.49Z" fill="#008000"/>
<path d="M383.29 333.32L388.69 338.72L383.29 344.12L377.89 338.72Z" fill="#008000"/>
<path d="M536.69 333.32L542.09 338.72L536.69 344.12L531.29 338.72Z" fill="#008000"/>
<path d="M127.63 288.58V288.48M124.13 288.48H131.13M127.63 295.58V295.69M124.13 295.69H131.13" stroke="#000000" stroke-width="1" fill="none"/>
<path d="M178.76 249.71V247.66M175.26 247.66H182.26M178.76 256.71V258.75M175.26 258.75H182.26" stroke="#000000" stroke-width="1" fill="none"/>
<path d="M229.90 229.82V228.12M226.40 228.12H233.40M229.90 236.82V238.52M226.40 238.52H233.40" stroke="#000000" stroke-width="1" fill="none"/>
<path d="M536.69 121.64V120.01M533.19 120.01H540.19M536.69 128.64V130.27M533.19 130.27H540.19" stroke="#000000" stroke-width="1" fill="none"/>
<path d="M178.76 245.54V247.87M175.26 247.87H182.26" stroke="#0000ff" stroke-width="1" fill="none"/>
<path d="M229.90 188.99V191.39M227.90 191.39H231.90" stroke="#0000ff" stroke-width="1" fill="none"/>
<path d="M281.03 155.10V145.38M277.53 145.38H284.53M281.03 163.70V176.28M277.53 176.28H284.53" stroke="#0000ff" stroke-width="1" fill="none"/>
<path d="M533.19 51.41H540.19M536.69 58.78V60.41M533.19 60.41H540.19" stroke="#0000ff" stroke-width="1" fill="none"/>
<path d="M127.63 272.03V269.77M126.63 269.77H128.63M126.63 280.03H128.63" stroke="#ff00ff" stroke-width="1" fill="none"/>
<path d="M178.76 226.91V224.45M175.26 224.45H182.26M175.26 235.12H182.26" stroke="#ff00ff" stroke-width="1" fill="none"/>
<path d="M229.90 175.70V173.72M228.90 173.72H230.90M228.90 183.42H230.90" stroke="#ff00ff" stroke-width="1" fill="none"/>
<path d="M281.03 143.96V141.36M277.53 141.36H284.53M277.53 152.31H284.53" stroke="#ff00ff" stroke-width="1" fill="none"/>
<path d="M383.29 93.16V83.73M379.79 83.73H386.79M383.29 101.76V108.34M379.79 108.34H386.79" stroke="#ff00ff" stroke-width="1" fill="none"/>
<path d="M536.69 58.72V54.66M533.19 54.66H540.19M536.69 67.32V68.52M533.19 68.52H540.19" stroke="#ff00ff" stroke-width="1" fill="none"/>
<text transform="translate(64.90,362.30) scale(0.89,1)" font-size="15" text-anchor="end">0</text>
<path d="M54.84 293.00L52.92 293.00L52.92 285.97Q52.01 286.77 50.51 287.29L50.51 285.24Q51.39 284.91 52.14 284.21Q52.82 283.52 53.11 282.68L54.84 282.68Z" fill="#000"/><text transform="translate(64.90,293.00) scale(0.89,1)" font-size="15" text-anchor="end">0</text>
<text transform="translate(64.90,223.70) scale(0.89,1)" font-size="15" text-anchor="end">20</text>
<text transform="translate(64.90,154.40) scale(0.89,1)" font-size="15" text-anchor="end">30</text>
<text transform="translate(64.90,85.10) scale(0.89,1)" font-size="15" text-anchor="end">40</text>
<text transform="translate(64.90,15.80) scale(0.89,1)" font-size="15" text-anchor="end">50</text>
<text transform="translate(80.21,380.40) scale(0.89,1)" font-size="15" text-anchor="end">0</text>
<text transform="translate(169.14,380.40) scale(0.89,1)" font-size="15" text-anchor="end">20</text>
<text transform="translate(254.36,380.40) scale(0.89,1)" font-size="15" text-anchor="end">40</text>
<text transform="translate(339.58,380.40) scale(0.89,1)" font-size="15" text-anchor="end">60</text>
<text transform="translate(424.80,380.40) scale(0.89,1)" font-size="15" text-anchor="end">80</text>
<path d="M496.25 380.40L494.33 380.40L494.33 373.37Q493.42 374.17 491.92 374.69L491.92 372.64Q492.80 372.31 493.55 371.61Q494.23 370.92 494.53 370.08L496.25 370.08Z" fill="#000"/><text transform="translate(513.74,380.40) scale(0.89,1)" font-size="15" text-anchor="end">00</text>
<text transform="translate(306.5,409.5) scale(1,1.035)" font-size="17.3" text-anchor="middle">Time (h)</text>
<g transform="translate(19.8,187.0) rotate(-90) scale(1,1.03)"><text x="0" y="0" font-size="17.85" text-anchor="middle">Enzymatic hydrolysis</text></g>
<g transform="translate(41.8,185.1) rotate(-90) scale(1,1.03)"><text x="0" y="0" font-size="17.85" text-anchor="middle">glucose yield (%)</text></g>
<rect x="79.8" y="14.5" width="95.2" height="121.19999999999999" fill="#808080"/>
<path d="M79.8 14.5H175L173.0 17.0H82.5V133.7L79.8 135.7Z" fill="#c4c4c4"/>
<path d="M175 14.5V135.7H79.8L82.5 133.7H173.0V17.0Z" fill="#3c3c3c"/>
<path d="M96 33.00H135.8" stroke="#000000" stroke-width="1.0"/>
<rect x="112.30" y="29.50" width="7.00" height="7.00" fill="#000000"/>
<text transform="translate(140.3,39.10) scale(1,1.055)" font-size="17.5">AA</text>
<path d="M96 55.60H135.8" stroke="#ff0000" stroke-width="1.0"/>
<circle cx="115.80" cy="55.60" r="4.4" fill="#ff0000"/>
<text transform="translate(140.3,61.70) scale(1,1.055)" font-size="17.5">GA</text>
<path d="M96 78.20H135.8" stroke="#0000ff" stroke-width="1.0"/>
<path d="M115.80 72.47L120.80 81.07L110.80 81.07Z" fill="#0000ff"/>
<text transform="translate(140.3,84.30) scale(1,1.055)" font-size="17.5">OA</text>
<path d="M96 100.80H135.8" stroke="#ff00ff" stroke-width="1.0"/>
<path d="M115.80 106.53L120.80 97.93L110.80 97.93Z" fill="#ff00ff"/>
<text transform="translate(140.3,106.90) scale(1,1.055)" font-size="17.5">SA</text>
<path d="M96 123.40H135.8" stroke="#008000" stroke-width="1.0"/>
<path d="M115.80 118.00L121.20 123.40L115.80 128.80L110.40 123.40Z" fill="#008000"/>
<text transform="translate(140.3,129.50) scale(1,1.055)" font-size="17.5">SS</text>
</svg></body></html>
